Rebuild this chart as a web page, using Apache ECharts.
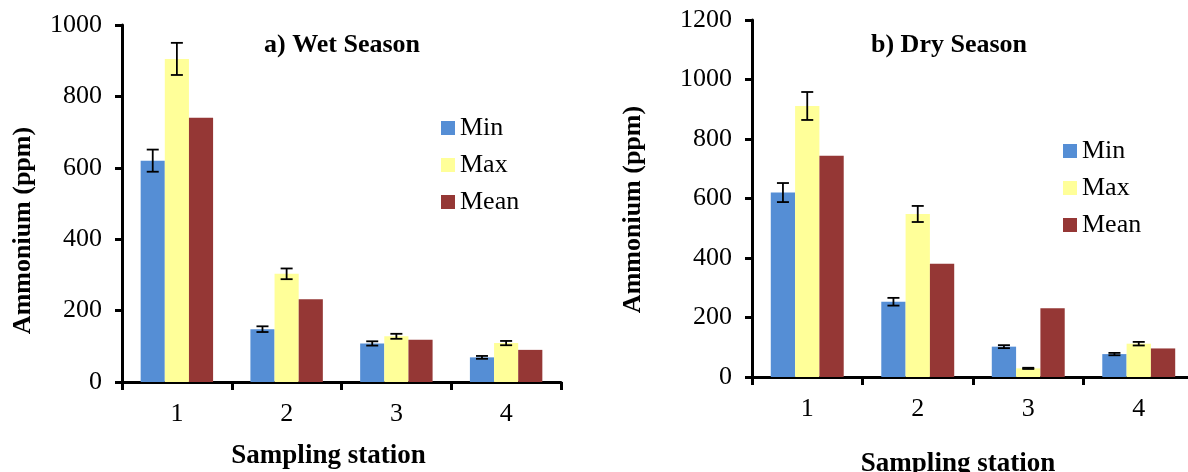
<!DOCTYPE html>
<html>
<head>
<meta charset="utf-8">
<script src="https://cdn.jsdelivr.net/npm/echarts@6/dist/echarts.min.js"></script>
<style>
  html, body { margin: 0; padding: 0; background: #fff; }
  #chart { width: 1188px; height: 472px; }
</style>
</head>
<body>
<div id="chart"></div>
<script>
// sampling stations
var stations = ['1', '2', '3', '4'];
var seriesNames = ['Min', 'Max', 'Mean'];

// a) wet season
var wetMin = [620, 148, 108, 69];
var wetMinErr = [31, 8, 6, 4];
var wetMax = [905, 303, 128, 109];
var wetMaxErr = [45, 15, 7, 6];
var wetMean = [740, 232, 118, 90];

// b) dry season
var dryMin = [620, 253, 102, 77];
var dryMinErr = [32, 13, 5, 4];
var dryMax = [911, 548, 29, 112];
var dryMaxErr = [47, 27, 2, 6];
var dryMean = [744, 381, 231, 96];

var wetTicks = [0, 1000, 200];
var dryTicks = [0, 1200, 200];

var colors = ['#558ed5', '#ffff99', '#953735'];
var serif = 'Liberation Serif';
var BAR = 0.22;

var myChart = echarts.init(document.getElementById('chart'));

function errData(vals, errs) {
    var out = [];
    for (var i = 0; i < vals.length; i++) {
        out.push([i, vals[i], errs[i]]);
    }
    return out;
}

// draws an error bar over bar number pos (0,1,2) of each group
function errorItem(pos) {
    return function (params, api) {
        var cat = api.value(0), val = api.value(1), err = api.value(2);
        var band = api.size([1, 0])[0];
        var dx = (pos - 1) * band * BAR;
        var hi = api.coord([cat, val + err]);
        var lo = api.coord([cat, val - err]);
        var x = hi[0] + dx;
        var cap = 6;
        var st = { stroke: '#000', lineWidth: 1.8 };
        return {
            type: 'group',
            children: [
                { type: 'line', shape: { x1: x, y1: hi[1], x2: x, y2: lo[1] }, style: st },
                { type: 'line', shape: { x1: x - cap, y1: hi[1], x2: x + cap, y2: hi[1] }, style: st },
                { type: 'line', shape: { x1: x - cap, y1: lo[1], x2: x + cap, y2: lo[1] }, style: st }
            ]
        };
    };
}

function xAxisOf(idx, namePad) {
    return {
        type: 'category',
        gridIndex: idx,
        data: stations,
        axisLine: { lineStyle: { color: '#000', width: 3 } },
        axisTick: { show: true, length: 8, lineStyle: { color: '#000', width: 3 } },
        axisLabel: { color: '#000', fontFamily: serif, fontSize: 26, margin: 19 },
        name: 'Sampling station',
        nameLocation: 'middle',
        nameGap: namePad[0],
        nameTextStyle: {
            color: '#000', fontFamily: serif, fontSize: 27, fontWeight: 'bold',
            padding: [0, namePad[1], 0, 0]
        }
    };
}

function yAxisOf(idx, ticks, gap, pad) {
    return {
        type: 'value',
        gridIndex: idx,
        min: ticks[0],
        max: ticks[1],
        interval: ticks[2],
        splitLine: { show: false },
        axisLine: { show: true, lineStyle: { color: '#000', width: 3 } },
        axisTick: { show: true, length: 7, lineStyle: { color: '#000', width: 3 } },
        axisLabel: {
            color: '#000', fontFamily: serif, fontSize: 26, margin: 20,
            formatter: function (v) { return String(v); }
        },
        name: 'Ammonium (ppm)',
        nameLocation: 'middle',
        nameRotate: 90,
        nameGap: gap,
        nameTextStyle: {
            color: '#000', fontFamily: serif, fontSize: 26, fontWeight: 'bold',
            padding: [0, pad, 0, 0]
        }
    };
}

function barsOf(idx, lists) {
    var out = [];
    for (var i = 0; i < 3; i++) {
        out.push({
            name: seriesNames[i],
            type: 'bar',
            xAxisIndex: idx,
            yAxisIndex: idx,
            barWidth: (BAR * 100) + '%',
            barGap: '0%',
            itemStyle: { color: colors[i] },
            data: lists[i]
        });
    }
    return out;
}

function errsOf(idx, pairs) {
    var out = [];
    for (var i = 0; i < pairs.length; i++) {
        out.push({
            type: 'custom',
            xAxisIndex: idx,
            yAxisIndex: idx,
            z: 5,
            renderItem: errorItem(pairs[i][0]),
            data: errData(pairs[i][1], pairs[i][2])
        });
    }
    return out;
}

var legendBase = {
    orient: 'vertical',
    data: seriesNames,
    icon: 'rect',
    padding: 0,
    itemWidth: 14,
    itemHeight: 14,
    itemGap: 11,
    selectedMode: false,
    textStyle: { color: '#000', fontFamily: serif, fontSize: 26 }
};

var option = {
    animation: false,
    backgroundColor: '#fff',
    title: [
        {
            text: 'a) Wet Season', left: 337, top: 27, textAlign: 'center',
            textStyle: { color: '#000', fontFamily: serif, fontSize: 26, fontWeight: 'bold' }
        },
        {
            text: 'b) Dry Season', left: 944, top: 27, textAlign: 'center',
            textStyle: { color: '#000', fontFamily: serif, fontSize: 26, fontWeight: 'bold' }
        }
    ],
    legend: [
        Object.assign({ left: 441, top: 115 }, legendBase),
        Object.assign({ left: 1063, top: 138 }, legendBase)
    ],
    grid: [
        { left: 122, top: 25, width: 439, height: 357, outerBoundsMode: 'none' },
        { left: 752, top: 20, width: 442, height: 357, outerBoundsMode: 'none' }
    ],
    xAxis: [xAxisOf(0, [61, 26]), xAxisOf(1, [74, 30])],
    yAxis: [yAxisOf(0, wetTicks, 86, 54), yAxisOf(1, dryTicks, 106, 22)],
    series: []
        .concat(barsOf(0, [wetMin, wetMax, wetMean]))
        .concat(errsOf(0, [[0, wetMin, wetMinErr], [1, wetMax, wetMaxErr]]))
        .concat(barsOf(1, [dryMin, dryMax, dryMean]))
        .concat(errsOf(1, [[0, dryMin, dryMinErr], [1, dryMax, dryMaxErr]]))
};

myChart.setOption(option);
</script>
</body>
</html>
